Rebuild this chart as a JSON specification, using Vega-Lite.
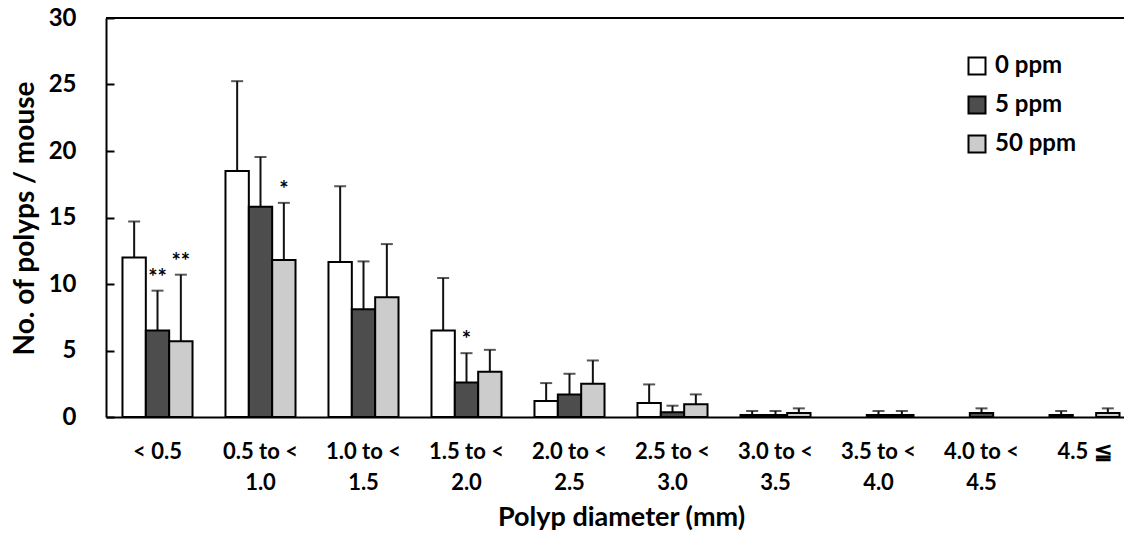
{
  "$schema": "https://vega.github.io/schema/vega-lite/v6.json",
  "width": 1018,
  "height": 399,
  "autosize": "none",
  "padding": {"left": 106, "top": 18, "right": 0, "bottom": 122},
  "background": "white",
  "config": {
    "view": {"stroke": null},
    "font": "Lato",
    "axis": {"labelFont": "Lato", "titleFont": "Lato", "labelFontWeight": "bold", "titleFontWeight": "bold", "labelColor": "black", "titleColor": "black", "grid": false, "domainColor": "black", "domainWidth": 2, "tickColor": "black", "tickWidth": 2}
  },
  "data": {
    "values": [
      {"size": "< 0.5", "dose": "0 ppm", "mean": 12.0, "upper": 14.7, "star": ""},
      {"size": "< 0.5", "dose": "5 ppm", "mean": 6.5, "upper": 9.5, "star": "**"},
      {"size": "< 0.5", "dose": "50 ppm", "mean": 5.7, "upper": 10.7, "star": "**"},
      {"size": "0.5 to <|1.0", "dose": "0 ppm", "mean": 18.5, "upper": 25.25, "star": ""},
      {"size": "0.5 to <|1.0", "dose": "5 ppm", "mean": 15.8, "upper": 19.55, "star": ""},
      {"size": "0.5 to <|1.0", "dose": "50 ppm", "mean": 11.8, "upper": 16.1, "star": "*"},
      {"size": "1.0 to <|1.5", "dose": "0 ppm", "mean": 11.65, "upper": 17.35, "star": ""},
      {"size": "1.0 to <|1.5", "dose": "5 ppm", "mean": 8.1, "upper": 11.7, "star": ""},
      {"size": "1.0 to <|1.5", "dose": "50 ppm", "mean": 9.0, "upper": 13.0, "star": ""},
      {"size": "1.5 to <|2.0", "dose": "0 ppm", "mean": 6.5, "upper": 10.45, "star": ""},
      {"size": "1.5 to <|2.0", "dose": "5 ppm", "mean": 2.6, "upper": 4.8, "star": "*"},
      {"size": "1.5 to <|2.0", "dose": "50 ppm", "mean": 3.4, "upper": 5.05, "star": ""},
      {"size": "2.0 to <|2.5", "dose": "0 ppm", "mean": 1.2, "upper": 2.55, "star": ""},
      {"size": "2.0 to <|2.5", "dose": "5 ppm", "mean": 1.7, "upper": 3.25, "star": ""},
      {"size": "2.0 to <|2.5", "dose": "50 ppm", "mean": 2.5, "upper": 4.25, "star": ""},
      {"size": "2.5 to <|3.0", "dose": "0 ppm", "mean": 1.05, "upper": 2.45, "star": ""},
      {"size": "2.5 to <|3.0", "dose": "5 ppm", "mean": 0.35, "upper": 0.85, "star": ""},
      {"size": "2.5 to <|3.0", "dose": "50 ppm", "mean": 0.95, "upper": 1.7, "star": ""},
      {"size": "3.0 to <|3.5", "dose": "0 ppm", "mean": 0.15, "upper": 0.45, "star": ""},
      {"size": "3.0 to <|3.5", "dose": "5 ppm", "mean": 0.15, "upper": 0.45, "star": ""},
      {"size": "3.0 to <|3.5", "dose": "50 ppm", "mean": 0.3, "upper": 0.65, "star": ""},
      {"size": "3.5 to <|4.0", "dose": "5 ppm", "mean": 0.15, "upper": 0.45, "star": ""},
      {"size": "3.5 to <|4.0", "dose": "50 ppm", "mean": 0.15, "upper": 0.45, "star": ""},
      {"size": "4.0 to <|4.5", "dose": "5 ppm", "mean": 0.3, "upper": 0.65, "star": ""},
      {"size": "4.5 ≦", "dose": "0 ppm", "mean": 0.15, "upper": 0.45, "star": ""},
      {"size": "4.5 ≦", "dose": "50 ppm", "mean": 0.3, "upper": 0.65, "star": ""}
    ]
  },
  "encoding": {
    "x": {
      "field": "size", "type": "nominal",
      "sort": ["< 0.5", "0.5 to <|1.0", "1.0 to <|1.5", "1.5 to <|2.0", "2.0 to <|2.5", "2.5 to <|3.0", "3.0 to <|3.5", "3.5 to <|4.0", "4.0 to <|4.5", "4.5 ≦"],
      "scale": {"domain": ["< 0.5", "0.5 to <|1.0", "1.0 to <|1.5", "1.5 to <|2.0", "2.0 to <|2.5", "2.5 to <|3.0", "3.0 to <|3.5", "3.5 to <|4.0", "4.0 to <|4.5", "4.5 ≦"], "range": [0, 1030], "paddingInner": 0.32, "paddingOuter": 0.16},
      "axis": {
        "labelAngle": 0, "labelFontSize": 22, "labelLineHeight": 31, "labelPadding": 24, "ticks": false, "domain": true,
        "labelExpr": "split(datum.value, '|')",
        "title": "Polyp diameter (mm)", "titleFontSize": 27, "titleX": 515, "titleY": 108, "titleBaseline": "alphabetic", "titleAnchor": null, "titleAlign": "center"
      }
    },
    "xOffset": {"field": "dose", "type": "nominal", "scale": {"domain": ["0 ppm", "5 ppm", "50 ppm"], "paddingInner": 0, "paddingOuter": 0}}
  },
  "layer": [
    {
      "mark": {"type": "rule", "color": "black", "strokeWidth": 2},
      "encoding": {"y": {"datum": 30}, "x": null, "xOffset": null}
    },
    {
      "mark": {"type": "rule", "color": "#111111", "strokeWidth": 2},
      "encoding": {
        "y": {"field": "mean", "type": "quantitative"},
        "y2": {"field": "upper"}
      }
    },
    {
      "mark": {"type": "tick", "color": "#111111", "thickness": 2, "size": 12, "orient": "horizontal"},
      "encoding": {
        "y": {"field": "upper", "type": "quantitative"}
      }
    },
    {
      "mark": {"type": "bar", "stroke": "black", "strokeWidth": 2},
      "encoding": {
        "y": {
          "field": "mean", "type": "quantitative",
          "scale": {"domain": [0, 30], "nice": false},
          "axis": {
            "values": [0, 5, 10, 15, 20, 25, 30], "labelFontSize": 24, "tickSize": -8, "labelPadding": 38, "domain": true,
            "title": "No. of polyps / mouse", "titleFontSize": 28, "titleX": -73, "titleY": 200, "titleBaseline": "alphabetic", "titleAngle": -90, "titleAlign": "center", "titleAnchor": null
          }
        },
        "fill": {
          "field": "dose", "type": "nominal",
          "scale": {"domain": ["0 ppm", "5 ppm", "50 ppm"], "range": ["#ffffff", "#4d4d4d", "#cccccc"]},
          "legend": {
            "title": null, "orient": "none", "legendX": 859, "legendY": 36,
            "symbolType": "square", "symbolSize": 289, "symbolStrokeColor": "black", "symbolStrokeWidth": 2,
            "labelFont": "Lato", "labelFontSize": 24, "labelFontWeight": "bold", "labelColor": "black",
            "rowPadding": 13, "labelOffset": 6
          }
        }
      }
    },
    {
      "transform": [{"filter": "datum.star != ''"}],
      "mark": {"type": "text", "fontSize": 22, "fontWeight": "bold", "fill": "black", "baseline": "alphabetic", "dy": -6},
      "encoding": {
        "y": {"field": "upper", "type": "quantitative"},
        "text": {"field": "star"}
      }
    }
  ]
}
